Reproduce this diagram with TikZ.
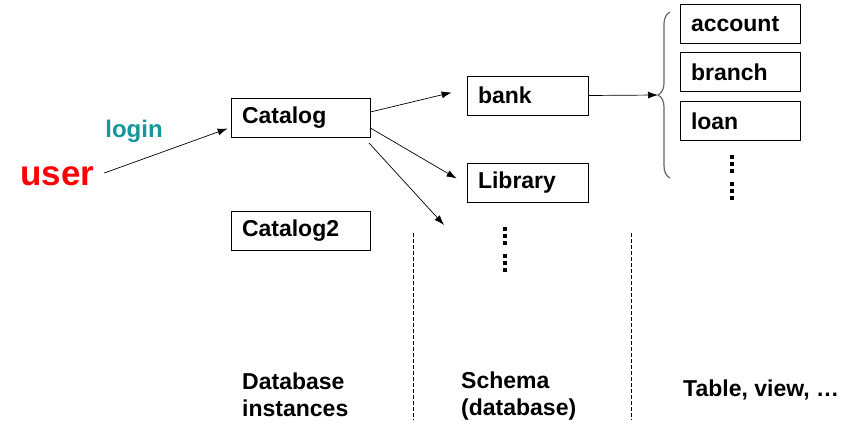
\documentclass[tikz,border=0pt]{standalone}
\usepackage{fontspec}
\setmainfont{Liberation Sans}
\usetikzlibrary{arrows.meta, decorations.pathreplacing}

\definecolor{loginc}{RGB}{20,150,155}

\tikzset{
  tbl/.style={draw, line width=0.8pt, minimum height=39pt, inner xsep=11pt,
    align=left, font=\bfseries\fontsize{23}{27}\selectfont},
  lbl/.style={font=\bfseries\fontsize{23}{27}\selectfont, align=left, inner sep=0pt},
  arr/.style={-{Latex[length=10pt,width=7pt]}, line width=0.7pt},
  sep/.style={dash pattern=on 4pt off 2pt, line width=0.8pt},
}

\begin{document}
\begin{tikzpicture}[x=1pt, y=-1pt]

\useasboundingbox (0,0) rectangle (867,439);

\def\dotsz{1.6}

% catalogs
\node[tbl, text width=117pt] (catalog) at (300.5,117.5) {Catalog};
\node[tbl, text width=117pt] (catalog2) at (300.5,231) {Catalog2};

% schemas
\node[tbl, text width=99pt] (bank) at (527.5,95.5) {bank};
\node[tbl, text width=99pt] (library) at (527.5,182.5) {Library};

% tables
\node[tbl, text width=98pt] (account) at (740,24) {account};
\node[tbl, text width=98pt] (branch) at (740,72) {branch};
\node[tbl, text width=98pt] (loan) at (740,121) {loan};

% user
\node[lbl, text=red, font=\bfseries\fontsize{35}{40}\selectfont, anchor=west] (user) at (20,176) {user};
\node[lbl, text=loginc, font=\bfseries\fontsize{24}{28}\selectfont] (login) at (134,131) {login};

\coordinate (from3) at (369,143);
\coordinate (to3) at (444,225);
\coordinate (tip) at (658,95);

\draw[arr] ([xshift=10pt, yshift=3pt]user.east) -- ([shift={(-3,11)}]catalog.west);
\draw[arr] ([yshift=5.5pt]catalog.east) -- ([shift={(-15,-3)}]bank.west);
\draw[arr] ([yshift=-10.5pt]catalog.east) -- ([shift={(-10,-4)}]library.west);
\draw[arr] (from3) -- (to3);
\draw[arr] (bank.east) -- (tip);

% brace
\draw[gray!80!black, line width=1.2pt, decorate, decoration={brace, amplitude=12pt}]
  (670,178) -- (670,12);

% dots
\foreach \y in {229,236,243,256,263,270}
  \fill (505-\dotsz,\y-\dotsz) rectangle (505+\dotsz,\y+\dotsz);
\foreach \y in {157,164,171,184,191,198}
  \fill (732-\dotsz,\y-\dotsz) rectangle (732+\dotsz,\y+\dotsz);

% separators
\draw[sep] (413,233) -- (413,420);
\draw[sep] (631,233) -- (631,420);

% level names
\node[lbl, anchor=west] (inst) at (242,395) {Database\\instances};
\node[lbl, anchor=west] (schema) at (461,396) {Schema\\(database)};
\node[lbl, anchor=west] (table) at (683,390) {Table, view, …};

\end{tikzpicture}
\end{document}
